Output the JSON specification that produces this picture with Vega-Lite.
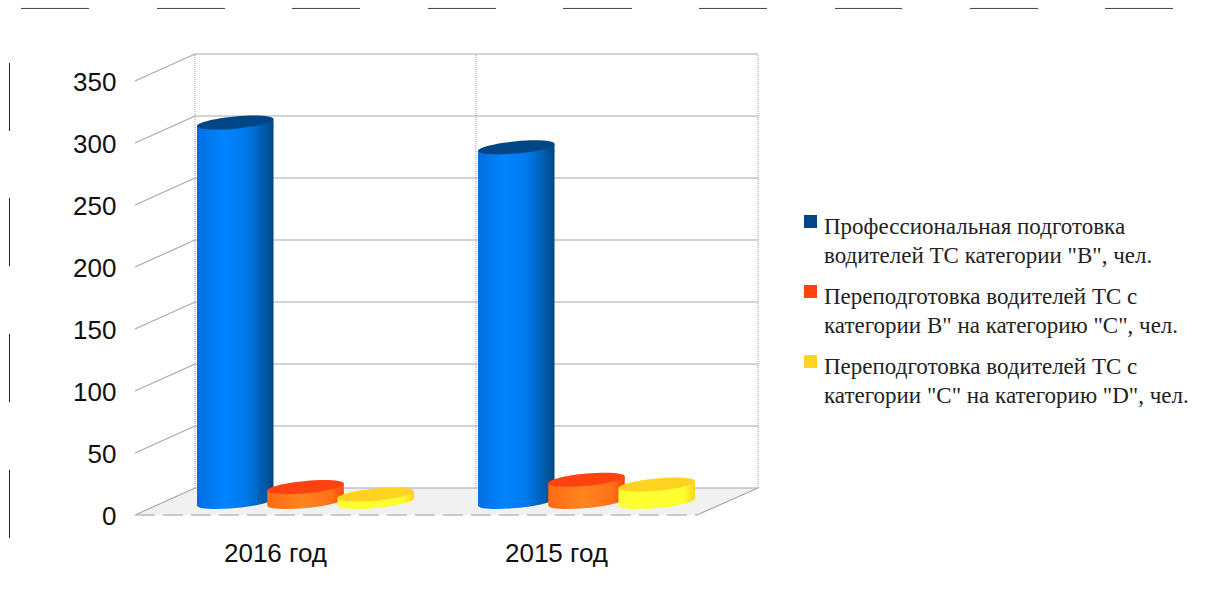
{"$schema":"https://vega.github.io/schema/vega-lite/v6.json","width":562,"height":434,"autosize":{"type":"none"},"padding":{"left":135,"top":81,"right":514,"bottom":89},"background":"white","config":{"view":{"stroke":null},"font":"Liberation Sans","axisY":{"title":null,"domain":false,"ticks":false,"grid":false,"labelFontSize":26,"labelColor":"#111111","labelFont":"Liberation Sans","labelPadding":19,"labelOffset":1}},"datasets":{"rows":[{"year":"2016 год","series":"Профессиональная подготовка водителей ТС категории \"B\", чел.","value":306},{"year":"2016 год","series":"Переподготовка водителей ТС с категории B\" на категорию \"C\", чел.","value":12},{"year":"2016 год","series":"Переподготовка водителей ТС с категории \"C\" на категорию \"D\", чел.","value":6},{"year":"2015 год","series":"Профессиональная подготовка водителей ТС категории \"B\", чел.","value":286},{"year":"2015 год","series":"Переподготовка водителей ТС с категории B\" на категорию \"C\", чел.","value":18},{"year":"2015 год","series":"Переподготовка водителей ТС с категории \"C\" на категорию \"D\", чел.","value":14}],"ticks":[{"tick":0},{"tick":50},{"tick":100},{"tick":150},{"tick":200},{"tick":250},{"tick":300},{"tick":350}],"walls":[{"at":60},{"at":341},{"at":623}],"floor":[{"fx":0,"low":0,"high":0},{"fx":60,"low":0,"high":21.8},{"fx":562,"low":0,"high":21.8},{"fx":623,"low":21.8,"high":21.8}],"hmarks":[{"start":-114,"end":-46},{"start":22,"end":90},{"start":157,"end":225},{"start":293,"end":361},{"start":428,"end":497},{"start":564,"end":632},{"start":700,"end":767},{"start":835,"end":903},{"start":970,"end":1038}],"vmarks":[{"start":364.5,"end":309.7},{"start":255.6,"end":200.8},{"start":146,"end":91},{"start":36.3,"end":-18.5}]},"data":{"name":"rows"},"resolve":{"scale":{"x":"independent"}},"layer":[{"data":{"name":"floor"},"mark":{"type":"area","color":"#f1f1f1"},"encoding":{"x":{"field":"fx","type":"quantitative","scale":{"domain":[0,562]},"axis":null},"y":{"field":"low","type":"quantitative","scale":{"domain":[0,350],"nice":false},"axis":{"title":null,"values":[0,50,100,150,200,250,300,350]}},"y2":{"field":"high"}}},{"data":{"name":"ticks"},"mark":{"type":"rule","color":"#a8a8a8","strokeWidth":1.2,"y2Offset":-27},"encoding":{"x":{"datum":0,"type":"quantitative","scale":{"domain":[0,562]},"axis":null},"x2":{"datum":60},"y":{"field":"tick","type":"quantitative"},"y2":{"field":"tick"}}},{"data":{"name":"ticks"},"mark":{"type":"rule","color":"#a8a8a8","strokeWidth":1.2,"yOffset":-27,"y2Offset":-27},"encoding":{"x":{"datum":60,"type":"quantitative","scale":{"domain":[0,562]},"axis":null},"x2":{"datum":623},"y":{"field":"tick","type":"quantitative"},"y2":{"field":"tick"}}},{"data":{"name":"walls"},"mark":{"type":"rule","color":"#a0a0a0","strokeWidth":1,"strokeDash":[1,1],"yOffset":-27,"y2Offset":-27},"encoding":{"x":{"field":"at","type":"quantitative","scale":{"domain":[0,562]},"axis":null},"y":{"datum":0,"type":"quantitative"},"y2":{"datum":350}}},{"data":{"name":"floor"},"mark":{"type":"rule","color":"#c8c8c8","strokeWidth":1.2,"strokeDash":[20,8]},"encoding":{"x":{"datum":0,"type":"quantitative","scale":{"domain":[0,562]},"axis":null},"x2":{"datum":562},"y":{"datum":0,"type":"quantitative"}}},{"data":{"name":"ticks"},"transform":[{"filter":"datum.tick==0"}],"mark":{"type":"rule","color":"#a8a8a8","strokeWidth":1.2,"y2Offset":-27},"encoding":{"x":{"datum":562,"type":"quantitative","scale":{"domain":[0,562]},"axis":null},"x2":{"datum":623},"y":{"field":"tick","type":"quantitative"},"y2":{"field":"tick"}}},{"data":{"name":"hmarks"},"mark":{"type":"rule","color":"#444444","strokeWidth":1},"encoding":{"x":{"field":"start","type":"quantitative","scale":{"domain":[0,562]},"axis":null},"x2":{"field":"end"},"y":{"datum":408.5,"type":"quantitative"}}},{"data":{"name":"vmarks"},"mark":{"type":"rule","color":"#222222","strokeWidth":1},"encoding":{"x":{"datum":-125.5,"type":"quantitative","scale":{"domain":[0,562]},"axis":null},"y":{"field":"start","type":"quantitative"},"y2":{"field":"end"}}},{"transform":[{"filter":"indexof(datum.series,'Профессиональная')==0"}],"encoding":{"x":{"field":"year","type":"nominal","sort":["2016 год","2015 год"],"scale":{"domain":["2016 год","2015 год"],"range":[30,592],"paddingInner":0,"paddingOuter":0},"axis":{"title":null,"domain":false,"ticks":false,"labelAngle":0,"labelFontSize":26,"labelColor":"#111111","labelFont":"Liberation Sans","labelPadding":25,"labelOffset":-30}},"xOffset":{"field":"series","type":"nominal","sort":null,"scale":{"domain":["Профессиональная подготовка водителей ТС категории \"B\", чел.","Переподготовка водителей ТС с категории B\" на категорию \"C\", чел.","Переподготовка водителей ТС с категории \"C\" на категорию \"D\", чел."],"paddingInner":0,"paddingOuter":0.5}}},"layer":[{"mark":{"type":"bar","width":76.5,"yOffset":-9.5,"y2Offset":-16.5,"fill":{"x1":0,"x2":1,"y1":0,"y2":0,"gradient":"linear","stops":[{"offset":0,"color":"#006fe0"},{"offset":0.35,"color":"#0084ff"},{"offset":0.65,"color":"#0078ea"},{"offset":0.88,"color":"#005aa8"},{"offset":1,"color":"#004586"}]}},"encoding":{"y":{"field":"value","type":"quantitative","stack":null},"y2":{"datum":0}}},{"mark":{"type":"point","filled":true,"opacity":1,"size":5852,"yOffset":-13,"shape":"M-1,.09C-1,.0016,-.5523,-.1103,0,-.16C.5523,-.2097,1,-.1784,1,-.09C1,-.0016,.5523,.1103,0,.16C-.5523,.2097,-1,.1784,-1,.09Z","fill":{"x1":0,"x2":1,"y1":0,"y2":0,"gradient":"linear","stops":[{"offset":0,"color":"#006fe0"},{"offset":0.35,"color":"#0084ff"},{"offset":0.65,"color":"#0078ea"},{"offset":0.88,"color":"#005aa8"},{"offset":1,"color":"#004586"}]}},"encoding":{"y":{"datum":0,"type":"quantitative"}}},{"mark":{"type":"point","filled":true,"opacity":1,"size":5852,"yOffset":-13,"shape":"M-1,-.12L1,-.12L1,-.09L-1,.09Z","fill":{"x1":0,"x2":1,"y1":0,"y2":0,"gradient":"linear","stops":[{"offset":0,"color":"#006fe0"},{"offset":0.35,"color":"#0084ff"},{"offset":0.65,"color":"#0078ea"},{"offset":0.88,"color":"#005aa8"},{"offset":1,"color":"#004586"}]}},"encoding":{"y":{"datum":0,"type":"quantitative"}}},{"mark":{"type":"point","filled":true,"opacity":1,"size":5852,"yOffset":-13,"shape":"M-1,.09L1,-.09L1,.12L-1,.12Z","fill":{"x1":0,"x2":1,"y1":0,"y2":0,"gradient":"linear","stops":[{"offset":0,"color":"#006fe0"},{"offset":0.35,"color":"#0084ff"},{"offset":0.65,"color":"#0078ea"},{"offset":0.88,"color":"#005aa8"},{"offset":1,"color":"#004586"}]}},"encoding":{"y":{"field":"value","type":"quantitative"}}}]},{"transform":[{"filter":"indexof(datum.series,'категорию \"C\"')>0"}],"encoding":{"x":{"field":"year","type":"nominal","sort":["2016 год","2015 год"],"scale":{"domain":["2016 год","2015 год"],"range":[30,592],"paddingInner":0,"paddingOuter":0},"axis":null},"xOffset":{"field":"series","type":"nominal","sort":null,"scale":{"domain":["Профессиональная подготовка водителей ТС категории \"B\", чел.","Переподготовка водителей ТС с категории B\" на категорию \"C\", чел.","Переподготовка водителей ТС с категории \"C\" на категорию \"D\", чел."],"paddingInner":0,"paddingOuter":0.5}}},"layer":[{"mark":{"type":"bar","width":76.5,"yOffset":-9.5,"y2Offset":-16.5,"fill":{"x1":0,"x2":1,"y1":0,"y2":0,"gradient":"linear","stops":[{"offset":0,"color":"#ff6a12"},{"offset":0.45,"color":"#ff8420"},{"offset":0.85,"color":"#ff7014"},{"offset":1,"color":"#ff420e"}]}},"encoding":{"y":{"field":"value","type":"quantitative","stack":null},"y2":{"datum":0}}},{"mark":{"type":"point","filled":true,"opacity":1,"size":5852,"yOffset":-13,"shape":"M-1,.09C-1,.0016,-.5523,-.1103,0,-.16C.5523,-.2097,1,-.1784,1,-.09C1,-.0016,.5523,.1103,0,.16C-.5523,.2097,-1,.1784,-1,.09Z","fill":{"x1":0,"x2":1,"y1":0,"y2":0,"gradient":"linear","stops":[{"offset":0,"color":"#ff6a12"},{"offset":0.45,"color":"#ff8420"},{"offset":0.85,"color":"#ff7014"},{"offset":1,"color":"#ff420e"}]}},"encoding":{"y":{"datum":0,"type":"quantitative"}}},{"mark":{"type":"point","filled":true,"opacity":1,"size":5852,"yOffset":-13,"shape":"M-1,-.12L1,-.12L1,-.09L-1,.09Z","fill":{"x1":0,"x2":1,"y1":0,"y2":0,"gradient":"linear","stops":[{"offset":0,"color":"#ff6a12"},{"offset":0.45,"color":"#ff8420"},{"offset":0.85,"color":"#ff7014"},{"offset":1,"color":"#ff420e"}]}},"encoding":{"y":{"datum":0,"type":"quantitative"}}},{"mark":{"type":"point","filled":true,"opacity":1,"size":5852,"yOffset":-13,"shape":"M-1,.09L1,-.09L1,.12L-1,.12Z","fill":{"x1":0,"x2":1,"y1":0,"y2":0,"gradient":"linear","stops":[{"offset":0,"color":"#ff6a12"},{"offset":0.45,"color":"#ff8420"},{"offset":0.85,"color":"#ff7014"},{"offset":1,"color":"#ff420e"}]}},"encoding":{"y":{"field":"value","type":"quantitative"}}}]},{"transform":[{"filter":"indexof(datum.series,'категорию \"D\"')>0"}],"encoding":{"x":{"field":"year","type":"nominal","sort":["2016 год","2015 год"],"scale":{"domain":["2016 год","2015 год"],"range":[30,592],"paddingInner":0,"paddingOuter":0},"axis":null},"xOffset":{"field":"series","type":"nominal","sort":null,"scale":{"domain":["Профессиональная подготовка водителей ТС категории \"B\", чел.","Переподготовка водителей ТС с категории B\" на категорию \"C\", чел.","Переподготовка водителей ТС с категории \"C\" на категорию \"D\", чел."],"paddingInner":0,"paddingOuter":0.5}}},"layer":[{"mark":{"type":"bar","width":76.5,"yOffset":-9.5,"y2Offset":-16.5,"fill":{"x1":0,"x2":1,"y1":0,"y2":0,"gradient":"linear","stops":[{"offset":0,"color":"#ffff33"},{"offset":0.85,"color":"#ffff30"},{"offset":1,"color":"#ffd320"}]}},"encoding":{"y":{"field":"value","type":"quantitative","stack":null},"y2":{"datum":0}}},{"mark":{"type":"point","filled":true,"opacity":1,"size":5852,"yOffset":-13,"shape":"M-1,.09C-1,.0016,-.5523,-.1103,0,-.16C.5523,-.2097,1,-.1784,1,-.09C1,-.0016,.5523,.1103,0,.16C-.5523,.2097,-1,.1784,-1,.09Z","fill":{"x1":0,"x2":1,"y1":0,"y2":0,"gradient":"linear","stops":[{"offset":0,"color":"#ffff33"},{"offset":0.85,"color":"#ffff30"},{"offset":1,"color":"#ffd320"}]}},"encoding":{"y":{"datum":0,"type":"quantitative"}}},{"mark":{"type":"point","filled":true,"opacity":1,"size":5852,"yOffset":-13,"shape":"M-1,-.12L1,-.12L1,-.09L-1,.09Z","fill":{"x1":0,"x2":1,"y1":0,"y2":0,"gradient":"linear","stops":[{"offset":0,"color":"#ffff33"},{"offset":0.85,"color":"#ffff30"},{"offset":1,"color":"#ffd320"}]}},"encoding":{"y":{"datum":0,"type":"quantitative"}}},{"mark":{"type":"point","filled":true,"opacity":1,"size":5852,"yOffset":-13,"shape":"M-1,.09L1,-.09L1,.12L-1,.12Z","fill":{"x1":0,"x2":1,"y1":0,"y2":0,"gradient":"linear","stops":[{"offset":0,"color":"#ffff33"},{"offset":0.85,"color":"#ffff30"},{"offset":1,"color":"#ffd320"}]}},"encoding":{"y":{"field":"value","type":"quantitative"}}}]},{"mark":{"type":"point","filled":true,"opacity":1,"size":5852,"yOffset":-13,"shape":"M-1,.09C-1,.0016,-.5523,-.1103,0,-.16C.5523,-.2097,1,-.1784,1,-.09C1,-.0016,.5523,.1103,0,.16C-.5523,.2097,-1,.1784,-1,.09Z"},"encoding":{"x":{"field":"year","type":"nominal","sort":["2016 год","2015 год"],"scale":{"domain":["2016 год","2015 год"],"range":[30,592],"paddingInner":0,"paddingOuter":0},"axis":null},"xOffset":{"field":"series","type":"nominal","sort":null,"scale":{"domain":["Профессиональная подготовка водителей ТС категории \"B\", чел.","Переподготовка водителей ТС с категории B\" на категорию \"C\", чел.","Переподготовка водителей ТС с категории \"C\" на категорию \"D\", чел."],"paddingInner":0,"paddingOuter":0.5}},"y":{"field":"value","type":"quantitative"},"color":{"field":"series","type":"nominal","sort":null,"scale":{"domain":["Профессиональная подготовка водителей ТС категории \"B\", чел.","Переподготовка водителей ТС с категории B\" на категорию \"C\", чел.","Переподготовка водителей ТС с категории \"C\" на категорию \"D\", чел."],"range":["#004586","#ff420e","#ffd320"]},"legend":{"orient":"none","legendX":664,"legendY":129,"title":null,"symbolType":"square","symbolSize":169,"symbolOpacity":1,"labelFont":"Liberation Serif","labelFontSize":23,"labelColor":"#222222","labelLimit":500,"labelOffset":2,"rowPadding":12,"labelExpr":"split(replace(replace(datum.label,' с категории',' с|категории'),'подготовка водителей ТС категории','подготовка|водителей ТС категории'),'|')","encode":{"labels":{"update":{"lineHeight":{"value":29},"dy":{"value":5}}}}}}}}]}
